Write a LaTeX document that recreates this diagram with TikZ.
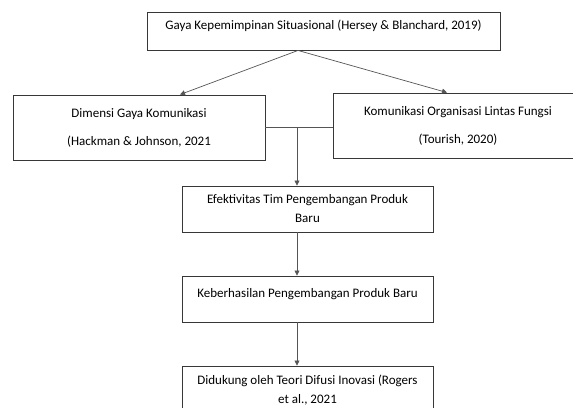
\documentclass[tikz,border=0pt]{standalone}
\usepackage{fontspec}
\setmainfont{Carlito}
\usepackage{tikz}
\usetikzlibrary{
  arrows.meta,
  calc,
  positioning
}
\definecolor{boxline}{RGB}{55,55,55}
\definecolor{arrline}{RGB}{85,85,85}

\begin{document}
\begin{tikzpicture}[
  x=1pt, y=-1pt,
  block/.style={draw=boxline, line width=0.9pt, align=center, inner sep=0pt,
                minimum width=251, font=\fontsize{13}{19}\selectfont},
  wide/.style={block, font=\fontsize{13}{28}\selectfont, minimum height=65},
  arr/.style={draw=arrline, line width=0.7pt, -{Triangle[length=5pt,width=5pt]}},
  link/.style={draw=arrline, line width=0.7pt}
]
\useasboundingbox (0,0) rectangle (573,407);
\clip (0,0) rectangle (573,407);

\node[block, minimum width=353, text height=17, text depth=21] at (323.5,31) (gaya)
  {Gaya Kepemimpinan Situasional (Hersey \& Blanchard, 2019)};
\node[wide, minimum width=252] at (139,127.5) (dimensi)
  {Dimensi Gaya Komunikasi\\(Hackman \& Johnson, 2021};
\node[wide, minimum width=250] at (458,125.5) (lintas)
  {Komunikasi Organisasi Lintas Fungsi\\(Tourish, 2020)};
\node[block, minimum height=46] at (307.5,209) (efektif)
  {Efektivitas Tim Pengembangan Produk\\Baru};
\node[block, text height=21, text depth=25] at (307.5,299) (hasil)
  {Keberhasilan Pengembangan Produk Baru};
\node[block, minimum height=48] at (307.5,390) (difusi)
  {Didukung oleh Teori Difusi Inovasi (Rogers\\et al., 2021};

% split below the top box
\coordinate (apex) at ($(gaya.south)+(-25.5,0)$);
\draw[arr] (apex) -- ($(dimensi.north)+(41,0)$);
\draw[arr] (apex) -- ($(lintas.north)+(-11,0)$);

% join of the two dimensions
\coordinate (drop) at ($(efektif.north)+(-10.5,0)$);
\draw[link] (dimensi.east) -- (dimensi.east -| lintas.west);
\draw[arr] (drop |- dimensi.east) -- (drop);
\draw[arr] ($(efektif.south)+(-10.5,0)$) -- ($(hasil.north)+(-10.5,0)$);
\draw[arr] ($(hasil.south)+(-10.5,0)$) -- ($(difusi.north)+(-10.5,0)$);

\end{tikzpicture}
\end{document}
